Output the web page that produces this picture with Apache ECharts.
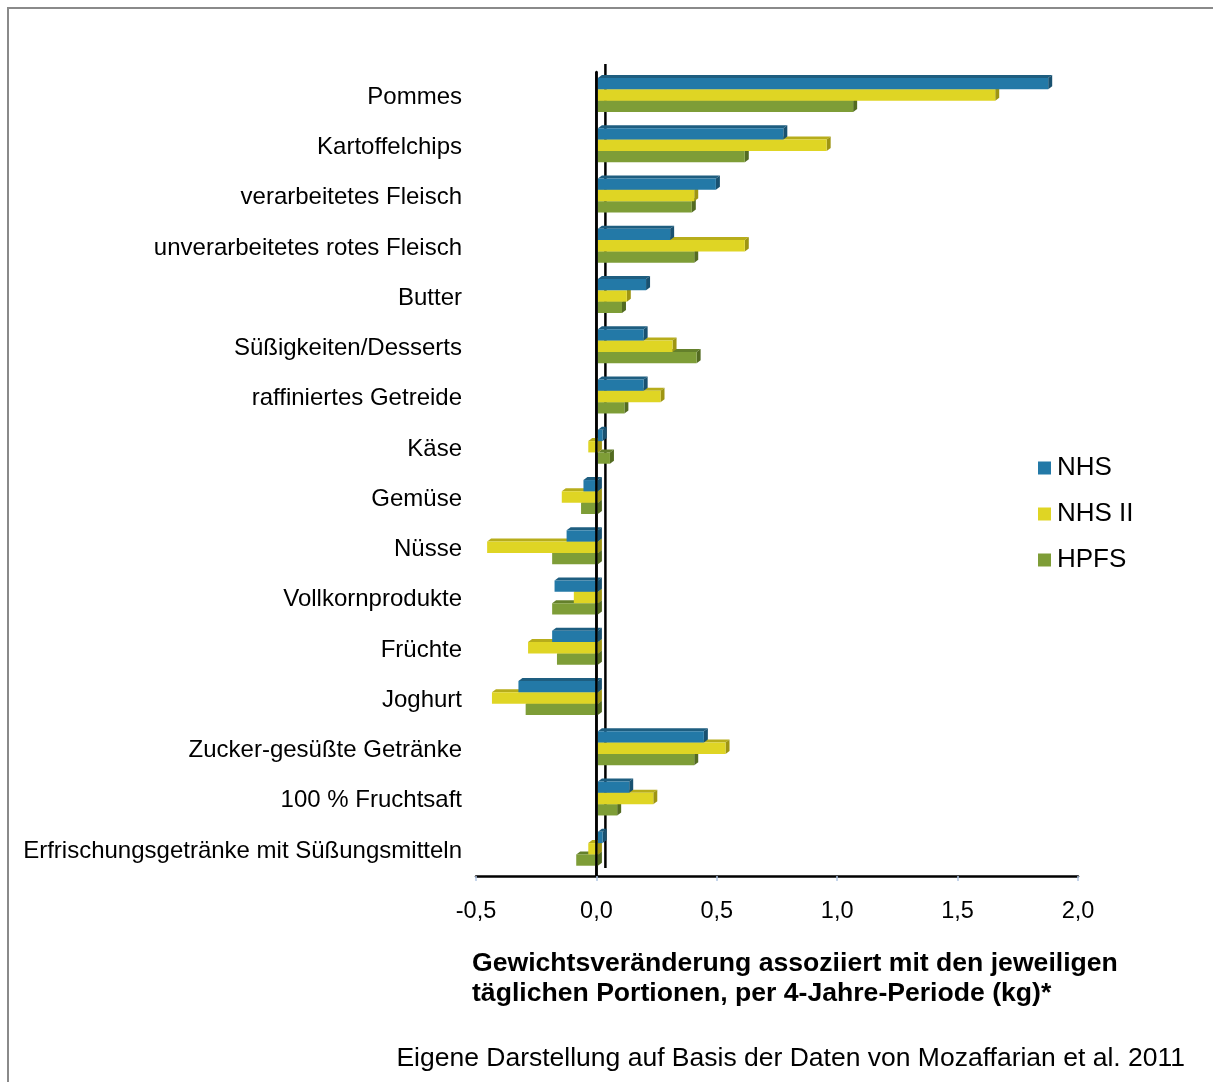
<!DOCTYPE html>
<html>
<head>
<meta charset="utf-8">
<script src="https://cdn.jsdelivr.net/npm/echarts@6/dist/echarts.min.js"></script>
<style>
  html, body { margin: 0; padding: 0; background: #fff; }
  #chart { width: 1213px; height: 1082px; }
</style>
</head>
<body>
<div id="chart"></div>
<script>
// Food categories, top to bottom
const categories = [
  'Pommes',
  'Kartoffelchips',
  'verarbeitetes Fleisch',
  'unverarbeitetes rotes Fleisch',
  'Butter',
  'Süßigkeiten/Desserts',
  'raffiniertes Getreide',
  'Käse',
  'Gemüse',
  'Nüsse',
  'Vollkornprodukte',
  'Früchte',
  'Joghurt',
  'Zucker-gesüßte Getränke',
  '100 % Fruchtsaft',
  'Erfrischungsgetränke mit Süßungsmitteln'
];

// Weight change per daily serving, per 4-year period (kg)
const nhs   = [1.87, 0.77, 0.49, 0.30, 0.20, 0.19, 0.19, 0.02, -0.06, -0.13, -0.18, -0.19, -0.33, 0.44, 0.13, 0.02];
const nhsII = [1.65, 0.95, 0.40, 0.61, 0.12, 0.31, 0.26, -0.04, -0.15, -0.46, -0.10, -0.29, -0.44, 0.53, 0.23, -0.04];
const hpfs  = [1.06, 0.61, 0.39, 0.40, 0.10, 0.41, 0.11, 0.05, -0.07, -0.19, -0.19, -0.17, -0.30, 0.40, 0.08, -0.09];

const seriesNames = ['NHS', 'NHS II', 'HPFS'];

// x axis ticks
const xMin = -0.5, xMax = 2.0, xStep = 0.5;

// face colours: front, top, side
const palette = [
  { front: '#2379A7', top: '#1E5E80', side: '#195170' },
  { front: '#DFD524', top: '#B7AD1B', side: '#9E9512' },
  { front: '#7E9D37', top: '#64802B', side: '#536B21' }
];

const DEPTH_X = 4, DEPTH_Y = 3;
const FONT = '"Liberation Sans", Arial, sans-serif';

// Pseudo-3D horizontal bar: front face plus top and right faces
function barRenderer(slot) {
  const col = palette[slot];
  return function (params, api) {
    const v = api.value(0);
    const c = api.value(1);
    const p0 = api.coord([0, c]);
    const p1 = api.coord([v, c]);
    const band = api.size([0, 1])[1];
    const h = band * 0.225;
    const yTop = p0[1] - 1.5 * h + slot * h - band * 0.042;
    const xa = Math.min(p0[0], p1[0]) + 1.5;
    const xb = Math.max(p0[0], p1[0]) + 1.5;
    return {
      type: 'group',
      children: [
        {
          type: 'polygon',
          shape: { points: [[xa, yTop], [xb, yTop], [xb + DEPTH_X, yTop - DEPTH_Y], [xa + DEPTH_X, yTop - DEPTH_Y]] },
          style: { fill: col.top }
        },
        {
          type: 'polygon',
          shape: { points: [[xb, yTop], [xb + DEPTH_X, yTop - DEPTH_Y], [xb + DEPTH_X, yTop + h - DEPTH_Y], [xb, yTop + h]] },
          style: { fill: col.side }
        },
        {
          type: 'rect',
          shape: { x: xa, y: yTop, width: xb - xa, height: h },
          style: { fill: col.front }
        }
      ]
    };
  };
}

// Zero line on the back wall (offset in depth) and on the front plane
function zeroLineRenderer(offX, offY) {
  return function (params, api) {
    const cs = params.coordSys;
    const x = api.coord([0, 0])[0];
    return {
      type: 'line',
      shape: { x1: x + offX, y1: cs.y + offY, x2: x + offX, y2: cs.y + cs.height + offY },
      style: { stroke: '#000', lineWidth: 2.5 }
    };
  };
}

const seriesData = [nhs, nhsII, hpfs];

const series = [
  {
    type: 'custom', name: 'backZero', z: 1, silent: true,
    renderItem: zeroLineRenderer(9, -8),
    data: [[0, 0]], encode: { x: 0, y: 1 }
  }
];
seriesData.forEach(function (vals, k) {
  series.push({
    type: 'custom',
    name: seriesNames[k],
    z: 10 - k,
    itemStyle: { color: palette[k].front },
    renderItem: barRenderer(k),
    data: vals.map(function (v, i) { return [v, i]; }),
    encode: { x: 0, y: 1 }
  });
});
series.push({
  type: 'custom', name: 'frontZero', z: 20, silent: true,
  renderItem: zeroLineRenderer(0, 0),
  data: [[0, 0]], encode: { x: 0, y: 1 }
});

const chart = echarts.init(document.getElementById('chart'), null, { renderer: 'canvas' });
chart.setOption({
  animation: false,
  backgroundColor: '#fff',
  textStyle: { fontFamily: FONT },
  grid: { left: 476, right: 135, top: 72, bottom: 206, containLabel: false },
  xAxis: {
    type: 'value',
    min: xMin, max: xMax, interval: xStep,
    axisLine: { show: true, onZero: false, lineStyle: { color: '#000', width: 2.5 } },
    axisTick: { show: true, length: 5, lineStyle: { color: '#B4C8E4', width: 1.5 } },
    splitLine: { show: false },
    axisLabel: {
      color: '#000', fontSize: 23.5, margin: 24, fontFamily: FONT,
      formatter: function (v) { return v.toFixed(1).replace('.', ','); }
    }
  },
  yAxis: {
    type: 'category',
    data: categories,
    inverse: true,
    axisLine: { show: true, lineStyle: { color: '#000', width: 2.5 } },
    axisTick: { show: false },
    splitLine: { show: false },
    axisLabel: { color: '#000', fontSize: 24, margin: 14, padding: [8, 0, 0, 0], fontFamily: FONT }
  },
  legend: {
    data: seriesNames,
    orient: 'vertical',
    left: 1033, top: 450,
    icon: 'rect', itemWidth: 13, itemHeight: 13,
    itemGap: 20,
    selectedMode: false,
    textStyle: { color: '#000', fontSize: 26, lineHeight: 26, padding: [0, 0, 0, 1], fontFamily: FONT }
  },
  title: [
    {
      text: 'Gewichtsveränderung assoziiert mit den jeweiligen\ntäglichen Portionen, per 4-Jahre-Periode (kg)*',
      left: 472, top: 949, padding: 0,
      textStyle: { color: '#000', fontSize: 26.6, fontWeight: 'bold', lineHeight: 30, fontFamily: FONT }
    },
    {
      text: 'Eigene Darstellung auf Basis der Daten von Mozaffarian et al. 2011',
      right: 28, top: 1045, padding: 0,
      textStyle: { color: '#000', fontSize: 26.5, fontWeight: 'normal', fontFamily: FONT }
    }
  ],
  graphic: [
    {
      type: 'rect', silent: true, z: 0,
      shape: { x: 8, y: 8, width: 1300, height: 1200 },
      style: { fill: 'none', stroke: '#8A8A8A', lineWidth: 2 }
    }
  ],
  series: series
});
</script>
</body>
</html>
